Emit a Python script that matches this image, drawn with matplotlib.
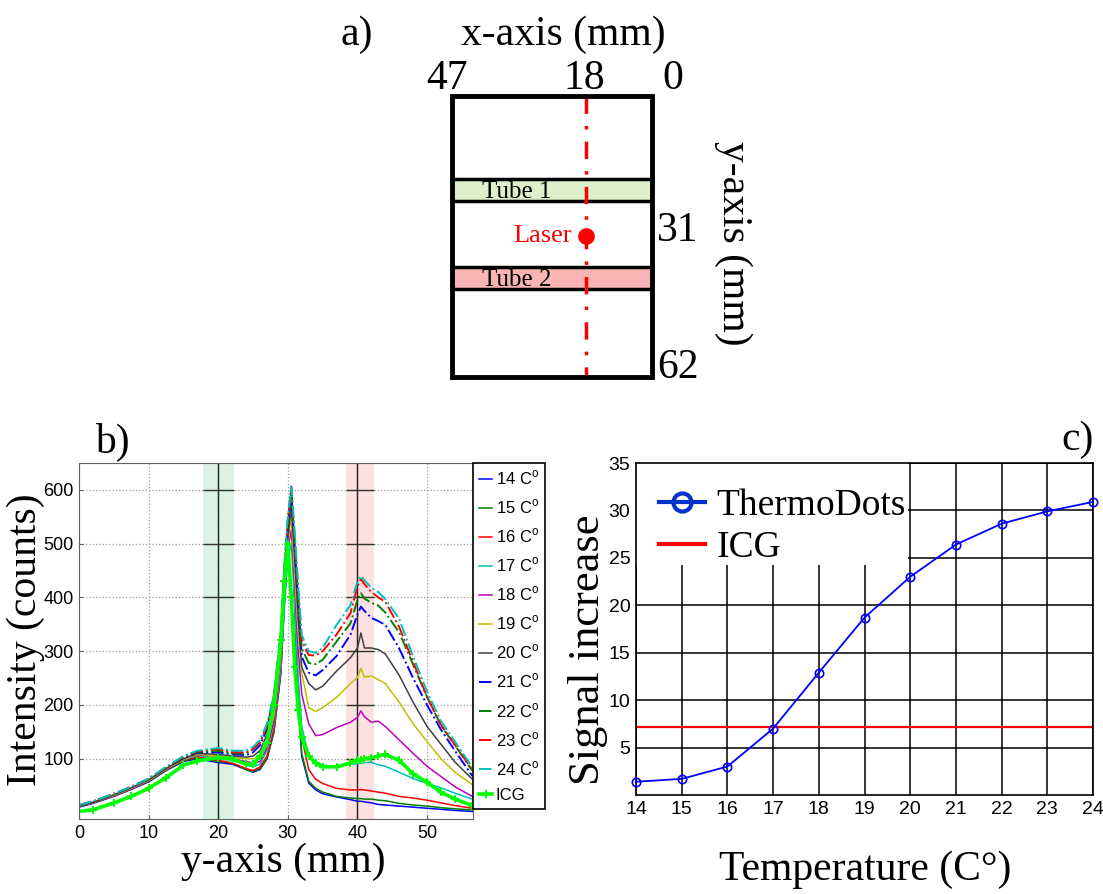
import matplotlib
matplotlib.use('Agg')
import matplotlib.pyplot as plt
from matplotlib.patches import Rectangle
from matplotlib.lines import Line2D

W, H = 1103, 894

SERIF = ['Liberation Serif', 'DejaVu Serif']
NARROW = ['Liberation Sans Narrow', 'Liberation Sans', 'DejaVu Sans']

plt.rcParams['font.family'] = NARROW
plt.rcParams['mathtext.fontset'] = 'custom'
plt.rcParams['mathtext.rm'] = 'Liberation Sans'

# ---- panel a: phantom sketch (depth in mm from the top)
tube_names = ['Tube 1', 'Tube 2']
tube_top = [18.3, 37.7]
tube_bottom = [23.2, 42.6]
tube_colors = ['#ddf0c9', '#f9b5b5']
x_marks = ['47', '18', '0']
y_marks = ['31', '62']
laser_depth = 31
box_depth = 62

# ---- panel b: intensity profiles along y (mm)
pos_mm = [0, 2, 5, 7.5, 10, 12.5, 15, 17, 20, 22, 24, 25, 26, 27, 28, 29, 29.5,
          30, 30.5, 31, 31.5, 32, 33, 34, 35, 37, 39, 40, 40.5, 41, 42, 43, 44,
          46, 48, 50, 52, 54, 56.5]
t14 = [10, 17, 30, 43, 57, 78, 95, 100, 93, 90, 80, 75, 80, 100, 150, 260, 390,
       510, 590, 380, 200, 105, 55, 42, 35, 29, 24, 21, 21, 20, 18, 15, 14,
       12, 10, 8, 6, 4, 2]
t15 = [11, 18, 31, 44, 58, 79, 96, 102, 95, 92, 80, 76, 82, 100, 150, 260, 390,
       505, 585, 385, 205, 110, 58, 45, 38, 30, 27, 26, 26, 25, 25, 23, 22,
       17, 14, 12, 9, 7, 5]
t16 = [12, 18, 31, 44, 59, 80, 97, 104, 97, 92, 82, 78, 85, 105, 155, 270, 400,
       515, 595, 400, 230, 140, 80, 62, 54, 45, 42, 42, 43, 42, 40, 38, 36,
       30, 27, 23, 18, 13, 8]
t17 = [12, 19, 32, 45, 60, 81, 98, 106, 100, 98, 88, 85, 90, 115, 165, 270, 380,
       470, 500, 380, 250, 160, 105, 95, 88, 86, 90, 91, 92, 93, 93, 89, 86,
       75, 63, 54, 46, 36, 25]
t18 = [12, 19, 32, 45, 60, 81, 99, 107, 105, 100, 95, 92, 95, 120, 170, 280, 400,
       490, 525, 420, 300, 220, 165, 143, 145, 158, 168, 177, 189, 178, 168, 170, 160,
       135, 110, 86, 67, 48, 30]
t19 = [12, 19, 32, 45, 60, 81, 99, 108, 105, 102, 100, 100, 105, 130, 180, 290, 410,
       500, 550, 440, 330, 260, 195, 188, 195, 214, 240, 251, 268, 252, 254, 247, 240,
       205, 165, 132, 100, 75, 52]
t20 = [12, 19, 33, 46, 61, 82, 100, 110, 108, 105, 103, 105, 115, 145, 195, 300, 420,
       510, 570, 470, 360, 270, 240, 228, 235, 263, 288, 306, 334, 306, 306, 303, 295,
       255, 205, 160, 127, 94, 62]
t21 = [13, 20, 34, 47, 62, 83, 102, 112, 112, 108, 107, 112, 125, 155, 210, 320, 440,
       530, 595, 490, 390, 290, 260, 255, 265, 291, 331, 368, 383, 375, 362, 356, 349,
       305, 250, 200, 154, 115, 68]
t22 = [13, 20, 34, 47, 62, 83, 103, 113, 115, 110, 110, 118, 130, 160, 215, 330, 450,
       540, 600, 500, 400, 305, 278, 276, 284, 318, 352, 395, 408, 398, 390, 385, 372,
       335, 275, 215, 162, 125, 78]
t23 = [14, 21, 35, 48, 63, 84, 104, 114, 118, 112, 112, 118, 130, 160, 215, 335, 455,
       545, 605, 510, 410, 320, 293, 292, 300, 331, 371, 420, 434, 425, 410, 400, 392,
       345, 280, 215, 163, 126, 80]
t24 = [14, 21, 35, 48, 63, 85, 105, 115, 120, 115, 115, 122, 135, 165, 220, 340, 460,
       550, 607, 520, 420, 330, 300, 297, 306, 349, 386, 430, 440, 432, 418, 410, 397,
       360, 290, 225, 170, 132, 84]
icg_profile = [2, 5, 18, 30, 45, 65, 88, 96, 102, 100, 90, 90, 105, 130, 200, 320, 430,
               500, 400, 270, 190, 140, 105, 92, 85, 85, 92, 97, 98, 100, 102, 105, 108,
               97, 72, 56, 38, 25, 13]
tube1_band = (17.8, 22.2)
tube2_band = (38.3, 42.4)

# ---- panel c: signal increase vs temperature
temps = [14, 15, 16, 17, 18, 19, 20, 21, 22, 23, 24]
thermodots = [1.4, 1.7, 3.0, 7.0, 12.9, 18.7, 23.0, 26.4, 28.6, 29.9, 30.9]
icg_level = 7.15


def box(l, t, r, b):
    return [l / W, 1 - b / H, (r - l) / W, (b - t) / H]


def fxy(px, py):
    return px / W, 1 - py / H


fig = plt.figure(figsize=(W / 100, H / 100), dpi=100)

# ================= panel a
axa = fig.add_axes(box(452, 96, 652, 377))
axa.set_xlim(0, 1)
axa.set_ylim(box_depth, 0)
axa.axis('off')
laser_x = 0.67
for name, y0, y1, col in zip(tube_names, tube_top, tube_bottom, tube_colors):
    axa.add_patch(Rectangle((0, y0), 1, y1 - y0, facecolor=col, edgecolor='black',
                            lw=2.5, clip_on=False, zorder=1))
    axa.text(0.15, (y0 + y1) / 2 + 0.5, name, family=SERIF, fontsize=18, va='center',
             ha='left', zorder=2)
axa.add_patch(Rectangle((0, 0), 1, box_depth, fill=False, edgecolor='black', lw=3.5,
                        clip_on=False, zorder=4))
axa.plot([laser_x, laser_x], [0, box_depth], color='red', lw=2.5,
         dashes=(5, 3.5, 1, 3.5), clip_on=False, zorder=3)
axa.plot(laser_x, laser_depth, 'o', color='red', ms=11, zorder=5)
axa.text(laser_x - 0.07, laser_depth, 'Laser', color='red', family=SERIF, fontsize=19,
         ha='right', va='center')

fig.text(*fxy(357, 35), 'a)', family=SERIF, fontsize=30, ha='center', va='center')
fig.text(*fxy(563, 35), 'x-axis (mm)', family=SERIF, fontsize=30, ha='center', va='center')
for lbl, px in zip(x_marks, [447, 584, 673]):
    fig.text(*fxy(px, 79), lbl, family=SERIF, fontsize=30, ha='center', va='center')
for lbl, py in zip(y_marks, [231, 368]):
    fig.text(*fxy(678, py), lbl, family=SERIF, fontsize=30, ha='center', va='center')
fig.text(*fxy(733, 243), 'y-axis (mm)', family=SERIF, fontsize=30, rotation=270,
         ha='center', va='center')

# ================= panel b
axb = fig.add_axes(box(79, 463, 473, 819))
axb.set_xlim(0, 56.6)
axb.set_ylim(-12, 650)
axb.set_xticks([0, 10, 20, 30, 40, 50])
axb.set_yticks([100, 200, 300, 400, 500, 600])
axb.grid(True, color='#a0a0a0', ls=':', lw=0.9)
axb.set_axisbelow(True)
for lo, hi, col in [(tube1_band[0], tube1_band[1], '#dcf2e4'),
                    (tube2_band[0], tube2_band[1], '#fde0e0')]:
    axb.axvspan(lo, hi, color=col, lw=0, zorder=0.3)
    axb.hlines([100, 200, 300, 400, 500, 600], lo, hi, color='#333333', lw=1, zorder=0.8)
axb.axvline(20, color='#222222', lw=1, zorder=0.8)
axb.axvline(40, color='#222222', lw=1, zorder=0.8)

curves = [t14, t15, t16, t17, t18, t19, t20, t21, t22, t23, t24]
colors = ['#0000ff', '#008000', '#ff0000', '#00bfbf', '#bf00bf', '#bfbf00', '#404040',
          '#0000ff', '#008000', '#ff0000', '#00bfbf']
for t, vals, col in zip(temps, curves, colors):
    ls = '-' if t <= 20 else '-.'
    axb.plot(pos_mm, vals, color=col, ls=ls, lw=1.1 if ls == '-' else 1.4,
             label='%d C$^\\mathrm{o}$' % t)
axb.plot(pos_mm, icg_profile, color='#00ff00', lw=2.6, marker='+', ms=6, mew=1.4,
         label='ICG')

for s in axb.spines.values():
    s.set_color('#606060')
axb.tick_params(direction='in', length=3, labelsize=13, pad=4, colors='#606060',
                labelcolor='black')
leg = axb.legend(loc='upper left', bbox_to_anchor=(1.0, 1.0), borderaxespad=0,
                 fontsize=12, handlelength=0.8, handletextpad=0.2, labelspacing=0.62,
                 borderpad=0.35, fancybox=False, framealpha=1, edgecolor='black')
leg.get_frame().set_linewidth(1.2)

fig.text(*fxy(112, 442), 'b)', family=SERIF, fontsize=30, ha='center', va='center')
fig.text(*fxy(283, 862), 'y-axis (mm)', family=SERIF, fontsize=30, ha='center', va='center')
fig.text(*fxy(26, 640), 'Intensity (counts)', family=SERIF, fontsize=30, rotation=90,
         ha='center', va='center')

# ================= panel c
axc = fig.add_axes(box(636, 463, 1093, 795))
axc.set_xlim(14, 24)
axc.set_ylim(0, 35)
axc.set_xticks(temps)
axc.set_yticks([5, 10, 15, 20, 25, 30, 35])
axc.grid(True, color='black', lw=1.1)
axc.set_axisbelow(True)
axc.add_patch(Rectangle((14, 24.2), 5.95, 10.8, facecolor='white', edgecolor='none',
                        zorder=1))
axc.axhline(icg_level, color='#ff0000', lw=1.6, zorder=2)
axc.plot(temps, thermodots, color='#0000ff', lw=1.3, marker='o', ms=6, mfc='none',
         mew=1.2, zorder=3, clip_on=False)
for s in axc.spines.values():
    s.set_color('black')
    s.set_linewidth(1.2)
axc.tick_params(direction='in', length=0, labelsize=14, pad=4)
handles = [Line2D([], [], color='#0033cc', lw=3, marker='o', ms=13, mfc='none', mew=3),
           Line2D([], [], color='#ff0000', lw=3)]
axc.legend(handles, ['ThermoDots', 'ICG'], loc='upper left', bbox_to_anchor=(0.0, 0.99),
           frameon=False, prop={'family': SERIF, 'size': 27}, handlelength=1.25,
           handletextpad=0.3, labelspacing=0.2, borderaxespad=0.2)

fig.text(*fxy(1078, 440), 'c)', family=SERIF, fontsize=30, ha='center', va='center')
fig.text(*fxy(865, 870), 'Temperature (C°)', family=SERIF, fontsize=30, ha='center',
         va='center')
fig.text(*fxy(588, 650), 'Signal increase', family=SERIF, fontsize=32, rotation=90,
         ha='center', va='center')

fig.savefig('out.png', dpi=100)
